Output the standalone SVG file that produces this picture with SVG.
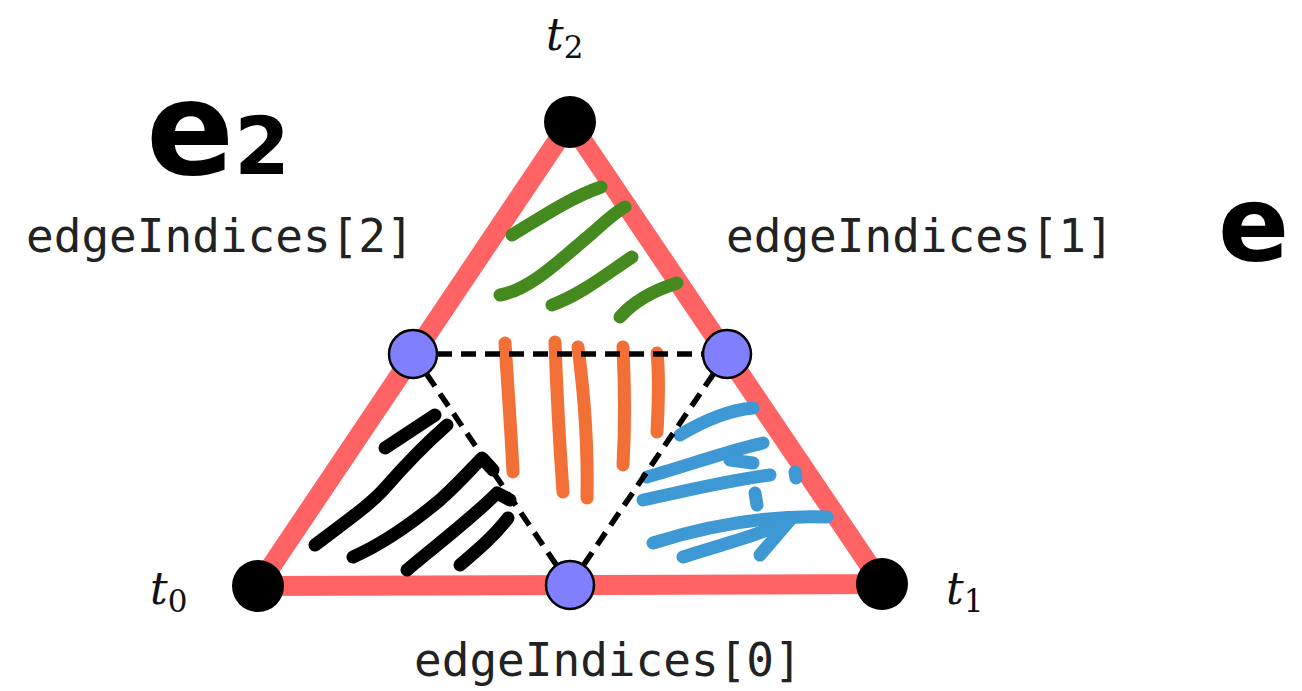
<svg xmlns="http://www.w3.org/2000/svg" width="1302" height="691" viewBox="0 0 1302 691">
<style>
.mono{font-family:"DejaVu Sans Mono","Liberation Mono",monospace;font-size:46px;fill:#222}
.tl{font-family:"DejaVu Serif","Liberation Serif",serif;font-style:italic;font-size:44px;fill:#111}
.sub{font-style:normal;font-size:31px}
.hand{font-family:"DejaVu Sans","Liberation Sans",sans-serif;font-weight:bold;fill:#000}
.h{fill:none;stroke-linecap:round;stroke-linejoin:round;stroke-width:13}
.g{stroke:#458a1e}.o{stroke:#f26f35}.b{stroke:#3d98d3}.k{stroke:#000}
.dash{stroke:#000;stroke-width:5.5;stroke-dasharray:15 9;fill:none}
.v{fill:#000}
.m{fill:#8080ff;stroke:#000;stroke-width:2.5}
</style>
<rect width="1302" height="691" fill="#fff"/>
<g id="triangle">
<polygon points="258,586 570,122 882,584" fill="none" stroke="#ff6363" stroke-width="20" stroke-linejoin="round"/>
</g>
<g id="hatching">
<path class="h g" d="M512,235 C545,215 570,198 601,187"/>
<path class="h g" d="M500,295 C530,290 560,260 590,235 C605,222 615,212 625,207"/>
<path class="h g" d="M552,305 C580,295 605,275 632,257"/>
<path class="h g" d="M620,317 C635,300 655,290 677,283"/>
<path class="h k" d="M385,448 C400,438 420,425 435,415"/>
<path class="h k" d="M315,545 C345,522 370,505 385,488 C405,465 430,440 447,425"/>
<path class="h k" d="M353,557 C380,545 410,525 440,500 C460,482 472,468 482,458 L493,470"/>
<path class="h k" d="M407,570 C430,550 470,520 497,493 L510,500"/>
<path class="h k" d="M460,565 C480,548 495,535 508,518"/>
<path class="h o" d="M505,343 C508,390 511,430 513,472"/>
<path class="h o" d="M555,342 C557,400 560,450 563,492"/>
<path class="h o" d="M578,347 C585,400 588,450 587,498"/>
<path class="h o" d="M623,347 C625,390 625,430 623,465"/>
<path class="h o" d="M657,353 C660,380 658,410 657,432"/>
<path class="h b" d="M680,435 C705,420 730,410 753,408"/>
<path class="h b" d="M647,477 C690,465 730,450 763,443"/>
<path class="h b" d="M730,460 L753,463"/>
<path class="h b" d="M643,500 C690,490 730,480 770,475"/>
<path class="h b" d="M755,493 L757,505"/>
<path class="h b" d="M795,472 L796,478"/>
<path class="h b" d="M653,543 C710,525 770,515 827,517"/>
<path class="h b" d="M683,557 C720,545 760,535 790,520 L760,555"/>
</g>
<g id="connectors">
<line class="dash" x1="413" y1="354" x2="727" y2="354"/>
<line class="dash" x1="413" y1="354" x2="570" y2="585"/>
<line class="dash" x1="727" y1="354" x2="570" y2="585"/>
</g>
<g id="t0"><circle class="v" cx="258" cy="586" r="26"/><text class="tl" x="150" y="604">t<tspan class="sub" dy="8">0</tspan></text></g>
<g id="t1"><circle class="v" cx="882" cy="584" r="26"/><text class="tl" x="946" y="604">t<tspan class="sub" dy="8">1</tspan></text></g>
<g id="t2"><circle class="v" cx="570" cy="122" r="26"/><text class="tl" x="546" y="50">t<tspan class="sub" dy="8">2</tspan></text></g>
<g id="m0"><circle class="m" cx="570" cy="585" r="24"/><text class="mono" x="414" y="676">edgeIndices[0]</text></g>
<g id="m1"><circle class="m" cx="727" cy="354" r="24"/><text class="mono" x="726" y="252">edgeIndices[1]</text></g>
<g id="m2"><circle class="m" cx="413" cy="354" r="24"/><text class="mono" x="26" y="252">edgeIndices[2]</text></g>
<g id="labels">
<text class="hand" x="146" y="174" font-size="130">e<tspan font-size="80">2</tspan></text>
<text class="hand" x="1218" y="261" font-size="105">e</text>
</g>
</svg>
